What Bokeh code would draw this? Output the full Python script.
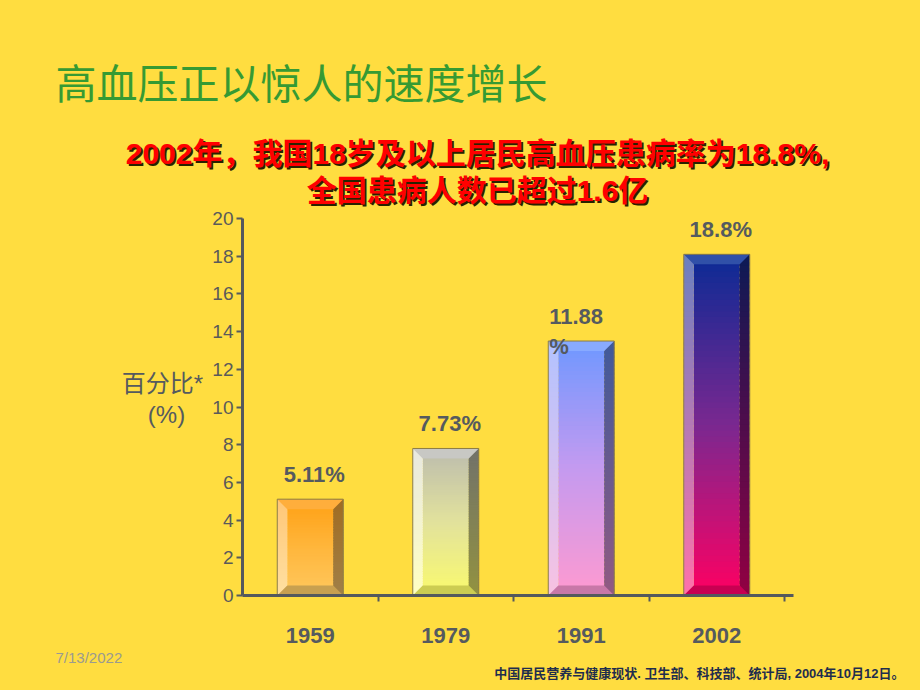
import numpy as np
from bokeh.plotting import figure
from bokeh.models import Range1d, LinearAxis, FixedTicker
from bokeh.core.properties import value
from bokeh.embed import file_html
from bokeh.resources import INLINE

# ---------------- data ----------------
years = ["1959", "1979", "1991", "2002"]
bar_values = [5.11, 7.8, 13.5, 18.1]          # bar heights as drawn
value_labels = ["5.11%", "7.73%", "11.88\n%", "18.8%"]
y_ticks = [0, 2, 4, 6, 8, 10, 12, 14, 16, 18, 20]

title_text = "高血压正以惊人的速度增长"
subtitle_lines = ["2002年，我国18岁及以上居民高血压患病率为18.8%,", "全国患病人数已超过1.6亿"]
ylabel_lines = ["百分比*", "(%)"]
date_text = "7/13/2022"
source_text = "中国居民营养与健康现状. 卫生部、科技部、统计局, 2004年10月12日。"

# ---------------- styles ----------------
BG = "#FFDD40"
AX = "#55595D"
TXT = "#555A5F"
GREEN = "#369A33"
MIX = "'Liberation Sans', 'Noto Sans CJK SC'"

bar_styles = [
    dict(face=["#FFC85E", "#FFB63C", "#FFA014"], left=["#FFE0A2", "#FFC676"], right=["#A08048", "#A06C22"],
         top="#FFAE3C", bottom="#C8A050"),
    dict(face=["#FAFA6E", "#E2E29C", "#BCBCAE"], left=["#FFFFC2", "#E8E8E0"], right=["#929240", "#72726A"],
         top="#C8C8C4", bottom="#CCCC52"),
    dict(face=["#FF9AD0", "#C49AF0", "#6E98FF"], left=["#F8C2E2", "#B2C2FF"], right=["#925A82", "#405A9A"],
         top="#88AAFF", bottom="#C878A8"),
    dict(face=["#FF0062", "#7A2890", "#0A2A95"], left=["#FF72AA", "#6A80C0"], right=["#920042", "#0C1A55"],
         top="#3050A8", bottom="#C80052"),
]


def hex2rgb(h):
    h = h.lstrip("#")
    return np.array([int(h[i:i + 2], 16) for i in (0, 2, 4)], dtype=float)


def grad(stops, t):
    n = len(stops) - 1
    pos = t * n
    i = min(int(pos), n - 1)
    f = pos - i
    c = hex2rgb(stops[i]) * (1 - f) + hex2rgb(stops[i + 1]) * f
    return "#%02x%02x%02x" % tuple(int(round(v)) for v in c)


# ---------------- geometry (pixels) ----------------
W, H = 920, 690
FL, FB = 45, 10                 # borders left / bottom reserved for axis panels
frame_l, frame_r, frame_t, frame_b = FL, W, 0, H - FB
x0_px, y0_px = 242, 595         # canvas position of data origin
px_per_x = 135.5                # pixels per category
px_per_y = (595 - 218) / 20.0   # pixels per percent
axis_right_px = 793

x_range = Range1d((frame_l - x0_px) / px_per_x, (frame_r - x0_px) / px_per_x)
y_range = Range1d((y0_px - frame_b) / px_per_y, (y0_px - frame_t) / px_per_y)

p = figure(width=W, height=H, output_backend="svg", toolbar_location=None,
           x_range=x_range, y_range=y_range,
           x_axis_location=None, y_axis_location=None,
           min_border_left=FL, min_border_right=0, min_border_top=0, min_border_bottom=FB,
           background_fill_color=BG, border_fill_color=BG,
           outline_line_color=BG, outline_line_width=3)
p.styles = {"background-color": BG}
p.grid.visible = False
p.title.visible = False

# pixel-space helper ranges for free text
p.extra_x_ranges = {"px": Range1d(frame_l, frame_r)}
p.extra_y_ranges = {"py": Range1d(frame_b, frame_t)}

n_cat = len(years)
xpos = [i + 0.5 for i in range(n_cat)]
bounds = [i + 1 for i in range(n_cat)]

# ---------------- axes ----------------
yax = LinearAxis(ticker=FixedTicker(ticks=y_ticks), fixed_location=0, bounds=(0, 20),
                 axis_line_width=3, axis_line_color=AX,
                 major_tick_out=6, major_tick_in=0, major_tick_line_width=2, major_tick_line_color=AX,
                 minor_tick_line_color=None,
                 major_label_text_font="Liberation Sans", major_label_text_font_size="19px",
                 major_label_text_color="#5A5A5A", major_label_standoff=3)
p.add_layout(yax, "left")

# x axis: only boundary ticks (as minor ticks), category names drawn as text below
xax = LinearAxis(ticker=FixedTicker(ticks=[], minor_ticks=bounds), fixed_location=0,
                 bounds=(0, (axis_right_px - x0_px) / px_per_x),
                 axis_line_width=3, axis_line_color=AX,
                 major_tick_line_color=None,
                 minor_tick_out=6, minor_tick_in=0, minor_tick_line_width=2, minor_tick_line_color=AX,
                 major_label_standoff=0)
p.add_layout(xax, "below")

# ---------------- bars ----------------
bar_w = 66 / px_per_x
hw = bar_w / 2
bx = 10 / px_per_x
by = 10 / px_per_y
N = 60

for c, v, st in zip(xpos, bar_values, bar_styles):
    step = v / N
    b = [step * k for k in range(N)]
    t = [min(v, step * (k + 1.6)) for k in range(N)]
    tc = [(k + 0.5) / N for k in range(N)]
    p.quad(left=c - hw + bx, right=c + hw - bx, bottom=b, top=t,
           fill_color=[grad(st["face"], q) for q in tc], line_color=None)
    p.quad(left=c - hw, right=c - hw + bx, bottom=b, top=t,
           fill_color=[grad(st["left"], q) for q in tc], line_color=None)
    p.quad(left=c + hw - bx, right=c + hw, bottom=b, top=t,
           fill_color=[grad(st["right"], q) for q in tc], line_color=None)
    p.patch(x=[c - hw, c + hw, c + hw - bx, c - hw + bx], y=[v, v, v - by, v - by],
            fill_color=st["top"], line_color=None)
    p.patch(x=[c - hw, c + hw, c + hw - bx, c - hw + bx], y=[0, 0, by, by],
            fill_color=st["bottom"], line_color=None)
    p.quad(left=c - hw, right=c + hw, bottom=0, top=v, fill_color=None,
           line_color="#8C7D45", line_width=1)

# value labels above bars
for c, v, lab in zip(xpos, bar_values, value_labels):
    if "\n" in lab:
        p.text(x=[c], y=[v], text=[lab], text_align="left", text_baseline="middle",
               x_offset=-hw * px_per_x + 1, y_offset=-10, text_line_height=1.2,
               text_font=value("Liberation Sans"), text_font_style="bold",
               text_font_size="22px", text_color=TXT)
    else:
        p.text(x=[c], y=[v], text=[lab], text_align="center", text_baseline="middle",
               x_offset=4, y_offset=-25,
               text_font=value("Liberation Sans"), text_font_style="bold",
               text_font_size="22px", text_color=TXT)

# category labels under the axis
p.text(x=xpos, y=[0] * n_cat, text=years, text_align="center", text_baseline="middle",
       y_offset=40, text_font=value("Liberation Sans"), text_font_style="bold",
       text_font_size="22px", text_color=TXT)


# ---------------- free text (canvas pixel coordinates) ----------------
def ptext(x, y, text, **kw):
    p.text(x=[x], y=[y], text=[text], x_range_name="px", y_range_name="py", **kw)


ptext(55, 80, title_text, text_font=value("Noto Sans CJK SC"), text_font_size="41px",
      text_color=GREEN, text_align="left", text_baseline="middle")

for yy, line in zip([153, 190], subtitle_lines):
    ptext(479, yy + 2, line, text_font=value(MIX), text_font_size="30px", text_font_style="bold",
          text_color="#2A2200", text_align="center", text_baseline="middle")
    ptext(477, yy, line, text_font=value(MIX), text_font_size="30px", text_font_style="bold",
          text_color="#FF0000", text_align="center", text_baseline="middle")

for xx, yy, line in zip([162, 166], [383, 414], ylabel_lines):
    ptext(xx, yy, line, text_font=value(MIX), text_font_size="24px", text_color=TXT,
          text_align="center", text_baseline="middle")

ptext(55, 657, date_text, text_font=value("Liberation Sans"), text_font_size="15px",
      text_color="#9A9A90", text_align="left", text_baseline="middle")
ptext(904, 673, source_text, text_font=value(MIX), text_font_size="13px", text_font_style="bold",
      text_color="#1F2D4D", text_align="right", text_baseline="middle")

open("out.html", "w").write(file_html(p, INLINE))
